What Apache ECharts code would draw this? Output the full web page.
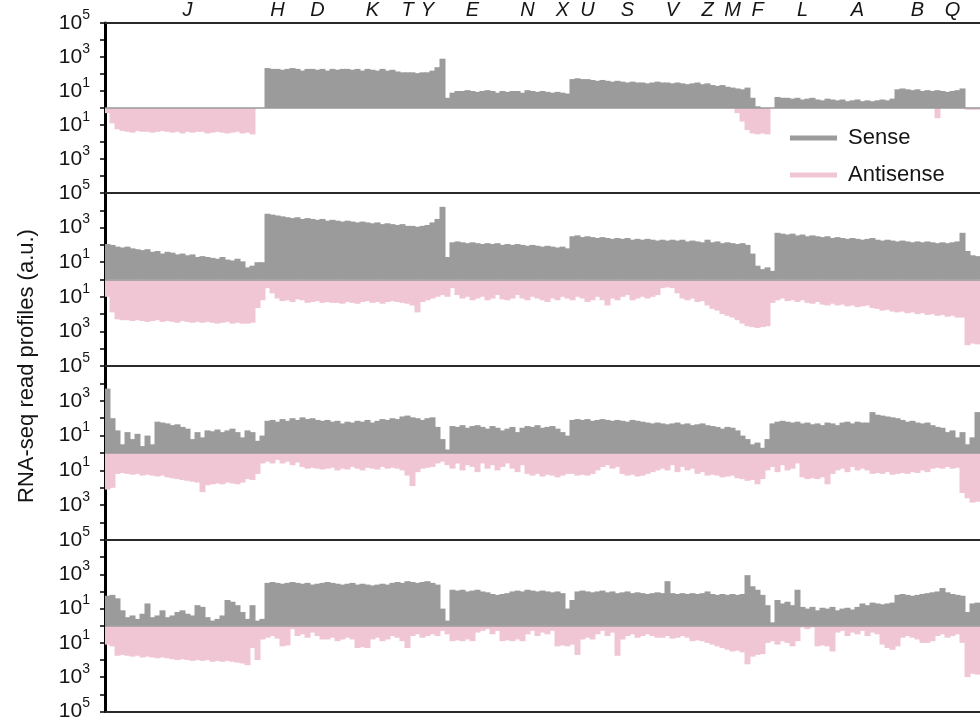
<!DOCTYPE html>
<html><head><meta charset="utf-8">
<script src="https://cdn.jsdelivr.net/npm/echarts@6/dist/echarts.min.js"></script>
<style>html,body{margin:0;padding:0;background:#fff}#c{width:980px;height:722px}</style>
</head><body><div id="c"></div>
<script>
// Gene labels along the top and the genome bin each one sits over
const geneNames = ['J','H','D','K','T','Y','E','N','X','U','S','V','Z','M','F','L','A','B','Q'];
const geneBins  = [16,34,42,53,60,64,73,84,91,96,104,113,120,125,130,139,150,162,169];

// log10(read count) per genome bin (175 bins)
const sense1 = [
0,0,0,0,0,0,0,0,0,0, 0,0,0,0,0,0,0,0,0,0, 0,0,0,0,0,0,0,0,0,0,
0,0,2.35,2.3,2.3,2.25,2.3,2.35,2.3,2.2, 2.3,2.3,2.25,2.3,2.2,2.3,2.25,2.3,2.3,2.25,
2.3,2.2,2.3,2.25,2.2,2.3,2.2,2.25,2.15,2.1, 2.1,2.1,2.05,2.1,2.1,2.2,2.4,2.9,0.6,0.9,
1.0,1.0,1.05,1.0,0.95,1.0,1.05,1.0,0.9,1.0, 0.95,1.0,1.0,0.9,1.05,1.0,0.95,1.0,0.95,0.9,
0.95,0.9,0.85,1.7,1.75,1.7,1.7,1.65,1.6,1.65, 1.6,1.55,1.6,1.55,1.5,1.55,1.5,1.5,1.45,1.5,
1.55,1.5,1.5,1.45,1.5,1.45,1.4,1.45,1.5,1.4, 1.45,1.35,1.3,1.35,1.25,1.2,1.15,1.1,1.2,0.6,
0.1,0,0,0,0.65,0.6,0.6,0.55,0.6,0.5, 0.55,0.6,0.5,0.45,0.55,0.5,0.45,0.5,0.4,0.45,
0.5,0.4,0.45,0.4,0.45,0.5,0.45,0.55,1.1,1.15, 1.1,1.05,1.1,1.0,1.05,1.0,1.05,1.0,0.95,1.0,
1.05,1.15,0,0,0];
const anti1 = [
0.3,0.9,1.25,1.35,1.4,1.45,1.35,1.4,1.4,1.45, 1.4,1.35,1.4,1.45,1.4,1.5,1.4,1.45,1.4,1.4,
1.5,1.45,1.4,1.45,1.5,1.45,1.4,1.5,1.45,1.55, 0,0,0,0,0,0,0,0,0,0,
0,0,0,0,0,0,0,0,0,0, 0,0,0,0,0,0,0,0,0,0, 0,0,0,0,0,0,0,0,0,0,
0,0,0,0,0,0,0,0,0,0, 0,0,0,0,0,0,0,0,0,0, 0,0,0,0,0,0,0,0,0,0,
0,0,0,0,0,0,0,0,0,0, 0,0,0,0,0,0,0,0,0,0, 0,0,0,0,0,0,0.3,0.8,1.3,1.5,
1.55,1.5,1.55,0,0,0,0,0,0,0, 0,0,0,0,0,0,0,0,0,0, 0,0,0,0,0,0,0,0,0,0,
0,0,0,0,0,0,0.6,0,0,0, 0,0,0.1,0.1,0.1];

const sense2 = [
2.05,2.0,1.9,1.85,1.9,1.8,1.75,1.7,1.75,1.6, 1.65,1.5,1.6,1.55,1.45,1.5,1.4,1.45,1.3,1.35,
1.3,1.25,1.2,1.3,1.15,1.1,1.2,1.05,0.7,0.8, 1.0,1.0,3.8,3.75,3.7,3.65,3.6,3.55,3.6,3.5,
3.55,3.5,3.45,3.5,3.4,3.45,3.4,3.35,3.4,3.35, 3.3,3.35,3.3,3.25,3.3,3.2,3.25,3.2,3.15,3.2,
3.1,3.1,3.05,3.1,3.15,3.3,3.5,4.2,1.3,2.15, 2.2,2.15,2.1,2.15,2.1,2.05,2.1,2.05,2.1,2.0,
2.05,2.0,2.05,2.0,1.95,2.0,1.95,1.9,1.95,1.9, 1.85,1.9,1.8,2.5,2.55,2.45,2.5,2.45,2.4,2.45,
2.4,2.35,2.4,2.35,2.4,2.3,2.35,2.3,2.35,2.3, 2.25,2.3,2.25,2.3,2.25,2.3,2.2,2.25,2.2,2.15,
2.3,2.15,2.2,2.1,2.15,2.1,2.05,2.1,2.0,1.5, 0.8,0.6,0.7,0.5,2.7,2.65,2.6,2.65,2.55,2.6,
2.5,2.55,2.5,2.45,2.5,2.4,2.45,2.4,2.35,2.4, 2.35,2.3,2.35,2.4,2.3,2.25,2.3,2.25,2.2,2.25,
2.2,2.15,2.2,2.15,2.2,2.15,2.1,2.15,2.1,2.15, 2.2,2.7,1.65,1.4,1.35];
const anti2 = [
1.0,1.9,2.3,2.35,2.35,2.4,2.35,2.4,2.45,2.4, 2.35,2.45,2.4,2.45,2.5,2.4,2.45,2.5,2.45,2.5,
2.45,2.5,2.55,2.5,2.45,2.55,2.5,2.55,2.55,2.5, 1.65,1.2,0.5,0.8,1.1,1.25,1.2,1.3,1.15,1.2,
1.35,1.3,1.25,1.35,1.3,1.35,1.35,1.4,1.3,1.35, 1.4,1.3,1.25,1.35,1.3,1.4,1.3,1.25,1.3,1.35,
1.4,1.5,1.9,1.3,1.2,1.1,1.0,0.9,1.0,0.5, 0.9,1.1,1.0,1.2,1.1,1.0,1.2,1.1,0.9,1.15,
1.2,1.1,0.9,1.1,1.2,1.0,1.1,1.2,1.3,1.1, 1.2,1.0,1.1,1.2,1.0,1.1,1.3,1.2,1.0,1.2,
1.5,1.1,1.2,1.0,0.9,1.2,1.1,1.0,1.1,1.0, 0.9,0.5,0.45,0.5,0.8,1.1,1.2,1.1,1.3,1.25,
1.5,1.7,1.8,2.0,2.1,2.2,2.35,2.55,2.7,2.75, 2.8,2.75,2.7,1.35,1.2,1.1,1.25,1.2,1.3,1.2,
1.35,1.4,1.3,1.45,1.5,1.4,1.5,1.45,1.55,1.5, 1.6,1.55,1.5,1.65,1.7,1.8,1.75,1.85,1.9,1.85,
1.95,1.9,2.0,1.95,2.05,2.0,2.1,2.05,2.15,2.1, 2.2,2.2,3.8,3.7,3.75];

const sense3 = [
3.7,2.0,1.3,0.5,1.2,0.8,1.1,0.4,1.0,0.5, 1.8,1.75,1.7,1.6,1.65,1.5,1.4,0.8,1.2,0.9,
1.3,1.25,1.35,1.2,1.3,1.4,1.2,0.9,1.3,1.2, 0.7,1.0,1.85,1.9,1.8,1.95,1.85,2.0,1.9,2.05,
1.95,2.0,1.9,1.85,1.9,1.8,1.85,1.7,1.8,1.75, 1.85,1.8,1.9,1.75,1.85,1.95,1.9,2.0,1.95,2.1,
2.15,2.05,2.0,1.9,2.0,2.05,1.5,0.8,0.2,1.55, 1.5,1.6,1.45,1.55,1.6,1.5,1.4,1.55,1.45,1.3,
1.4,1.5,1.2,1.45,1.55,1.5,1.6,1.45,1.5,1.55, 1.4,1.2,1.0,1.9,1.95,1.9,1.95,1.85,1.9,1.95,
1.9,1.85,1.9,1.85,1.8,1.9,1.85,1.8,1.75,1.7, 1.75,1.7,1.65,1.7,1.75,1.65,1.7,1.6,1.65,1.7,
1.6,1.55,1.5,1.4,1.5,1.45,1.3,1.0,0.8,0.5, 0.6,0.3,0.8,1.7,1.8,1.85,1.8,1.75,1.8,1.7,
1.75,1.65,1.7,1.6,1.75,1.7,1.6,1.75,1.8,1.7, 1.8,1.75,1.75,2.35,2.2,2.15,2.1,2.05,2.0,1.9,
1.8,1.85,1.75,1.7,1.75,1.6,1.5,1.45,1.2,1.3, 0.9,1.2,0.5,0.9,2.35];
const anti3 = [
2.1,2.0,1.2,1.15,1.2,1.25,1.2,1.3,1.25,1.3, 1.35,1.3,1.4,1.45,1.5,1.55,1.6,1.65,1.7,2.25,
1.85,1.8,1.75,1.8,1.7,1.75,1.8,1.7,1.5,1.55, 1.2,0.6,0.5,0.6,0.4,0.6,0.5,0.7,0.55,0.8,
0.9,0.85,0.9,0.95,0.9,0.85,1.0,0.9,0.95,0.8, 0.9,1.0,0.85,0.9,0.95,0.8,0.9,0.85,0.9,1.0,
1.3,1.9,1.1,0.9,0.85,0.8,0.6,0.5,0.7,0.9, 0.6,1.0,0.7,0.8,1.1,0.6,0.9,0.7,1.0,0.8,
0.6,0.9,1.1,0.7,1.2,1.3,1.2,1.35,1.25,1.3, 1.4,1.3,1.2,1.2,1.3,1.25,1.3,1.2,1.0,0.8,
0.7,0.9,0.8,1.2,1.3,1.25,1.35,1.3,1.2,1.1, 1.0,0.9,1.0,0.7,1.1,0.8,1.0,0.9,1.2,1.1,
1.3,1.25,1.3,1.4,1.35,1.3,1.45,1.5,1.6,1.55, 1.8,1.5,1.0,0.8,1.1,0.7,1.0,0.9,0.6,1.4,
1.5,1.45,1.5,1.4,1.8,1.2,1.0,0.9,1.1,0.8, 1.0,0.9,1.0,1.2,1.15,1.2,1.1,1.25,1.2,1.15,
1.2,1.1,1.15,1.0,1.1,0.9,0.85,0.9,0.8,0.9, 0.85,2.3,2.6,2.85,2.8];

const sense4 = [
1.75,1.8,1.6,0.9,0.5,0.6,0.4,0.7,1.3,0.5, 0.6,0.9,0.5,0.6,0.8,0.9,0.7,0.6,1.2,1.1,
0.5,0.3,0.4,0.6,1.5,1.4,1.2,0.8,0.4,1.2, 0.3,0.4,2.5,2.55,2.5,2.45,2.5,2.55,2.5,2.45,
2.5,2.4,2.45,2.5,2.55,2.5,2.45,2.4,2.45,2.5, 2.4,2.45,2.4,2.35,2.4,2.45,2.4,2.5,2.55,2.5,
2.6,2.55,2.5,2.55,2.6,2.5,2.4,1.0,0.3,2.1, 2.05,2.1,2.0,2.05,2.1,2.0,1.95,1.85,1.8,1.85,
1.9,2.0,2.05,2.0,2.1,2.05,2.0,2.05,2.0,1.95, 2.0,1.9,1.0,1.5,2.0,2.05,2.0,1.95,2.0,2.05,
1.95,2.0,1.9,1.95,2.0,1.9,1.95,1.9,1.85,1.9, 1.95,1.9,2.6,1.9,1.85,1.9,1.85,1.9,1.85,1.9,
2.0,1.85,1.8,1.85,1.8,1.85,1.8,1.85,2.95,2.3, 2.1,1.8,1.2,0.2,1.5,1.3,1.4,1.2,2.1,1.1,
1.0,1.1,0.9,1.05,1.0,1.1,0.9,1.0,1.05,0.95, 1.1,1.3,1.2,1.35,1.3,1.25,1.3,1.35,1.8,1.85,
1.8,1.75,1.8,1.85,1.9,1.95,2.0,2.2,1.95,1.85, 1.8,1.75,0.8,1.3,1.35];
const anti4 = [
1.1,1.2,1.75,1.7,1.75,1.8,1.75,1.85,1.8,1.85, 1.9,1.85,1.9,1.95,2.0,1.95,2.0,2.05,2.0,2.05,
2.0,2.1,2.05,2.1,2.05,2.1,2.15,2.2,2.3,1.3, 2.0,0.8,0.7,0.6,0.75,1.2,1.15,0.2,0.6,0.5,
0.7,0.4,0.6,0.8,0.8,0.7,0.9,0.8,0.7,0.8, 1.3,1.25,1.3,0.8,0.7,0.9,0.8,0.6,0.7,0.9,
1.3,0.6,0.5,0.7,0.6,0.5,0.6,0.3,0.5,0.9, 0.85,0.9,0.8,0.9,0.4,0.3,0.2,0.5,0.3,0.9,
0.85,0.9,0.8,0.9,0.5,0.3,0.6,0.4,0.5,0.3, 1.2,1.15,1.2,1.1,1.7,0.8,0.7,0.8,0.5,0.3,
0.6,0.4,1.75,0.8,0.6,0.5,0.7,0.6,0.5,0.6, 0.7,0.7,0.6,0.75,0.7,0.6,0.7,0.9,0.85,0.9,
1.0,1.1,1.2,1.3,1.4,1.5,1.45,1.55,2.25,1.8, 1.7,1.65,1.0,0.9,1.1,0.9,1.0,1.2,0.9,0.1,
0.2,0.1,1.2,1.15,1.2,1.5,0.4,0.3,0.6,0.4, 0.5,0.3,0.6,0.4,0.5,1.1,1.3,1.4,1.2,0.7,
0.6,0.7,0.8,1.0,1.0,0.9,0.6,0.5,0.7,0.6, 0.5,1.0,3.0,2.8,2.85];

const senseSets = [sense1, sense2, sense3, sense4];
const antiSets  = [anti1, anti2, anti3, anti4];
const yTitle = 'RNA-seq read profiles (a.u.)';

// ---------- chart construction ----------
const FONT = '"Liberation Sans", Arial, Helvetica, sans-serif';
const GRAY = '#9b9b9b', PINK = '#f1c6d4', INK = '#151515';
const bins = sense1.map((_, i) => String(i));
const gridTops = [21, 193, 366, 540];
const gridHeights = [172, 173, 174, 173];

const grids = [], xAxes = [], yAxes = [], series = [];
gridTops.forEach((t, i) => {
  grids.push({left: 105, right: 0, top: t, height: gridHeights[i]});
  xAxes.push({
    type: 'category', gridIndex: i, data: bins, position: 'top', boundaryGap: true,
    axisLine: {onZero: false, lineStyle: {color: '#2a2a2a', width: 2}},
    axisTick: {show: false},
    axisLabel: i === 0 ? {
      show: true, margin: 3, fontSize: 20, fontStyle: 'italic', fontFamily: FONT, color: INK,
      interval: (idx) => geneBins.indexOf(idx) >= 0,
      formatter: (v, idx) => { const k = geneBins.indexOf(idx); return k >= 0 ? geneNames[k] : ''; }
    } : {show: false}
  });
  yAxes.push({
    type: 'value', gridIndex: i, min: -5, max: 5, interval: 1,
    axisLine: {show: true, onZero: false, lineStyle: {color: '#000', width: 3}},
    axisTick: {show: true, length: 5, lineStyle: {color: '#000', width: 1.5}},
    splitLine: {show: false},
    axisLabel: {
      margin: 15,
      formatter: (v) => {
        const e = Math.round(v);
        if (e % 2 === 0) return '';
        if (i > 0 && e === 5) return '';
        return '{b|10}{e|' + Math.abs(e) + '}';
      },
      rich: {
        b: {fontSize: 21, fontFamily: FONT, color: INK, lineHeight: 30, verticalAlign: 'middle'},
        e: {fontSize: 14, fontFamily: FONT, color: INK, lineHeight: 14, verticalAlign: 'top'}
      }
    }
  });
  series.push({
    name: 'Sense', type: 'bar', xAxisIndex: i, yAxisIndex: i,
    data: senseSets[i], barWidth: 6, barGap: '-100%',
    itemStyle: {color: GRAY},
    emphasis: {disabled: true}, animation: false, z: 2,
    markLine: {silent: true, symbol: 'none', label: {show: false}, animation: false,
      lineStyle: {color: '#999', type: 'solid', width: 1.5}, data: [{yAxis: 0}]}
  });
  series.push({
    name: 'Antisense', type: 'bar', xAxisIndex: i, yAxisIndex: i,
    data: antiSets[i].map(v => -v), barWidth: 6, barGap: '-100%',
    itemStyle: {color: PINK},
    emphasis: {disabled: true}, animation: false, z: 2
  });
});
// bottom frame line of the last panel
xAxes.push({
  type: 'category', gridIndex: 3, data: bins, position: 'bottom',
  axisLine: {onZero: false, lineStyle: {color: '#2a2a2a', width: 2}},
  axisTick: {show: false}, axisLabel: {show: false}
});

const chart = echarts.init(document.getElementById('c'), null, {renderer: 'canvas'});
chart.setOption({
  animation: false,
  backgroundColor: '#fff',
  grid: grids, xAxis: xAxes, yAxis: yAxes, series: series,
  legend: {
    data: ['Sense', 'Antisense'], orient: 'vertical', left: 790, top: 127,
    icon: 'rect', itemWidth: 47, itemHeight: 5, itemGap: 15, selectedMode: false,
    padding: 0,
    textStyle: {fontSize: 22, fontFamily: FONT, color: INK, padding: [0, 0, 0, 6]}
  },
  graphic: [{
    type: 'text', x: 27, y: 366, rotation: Math.PI / 2,
    style: {text: yTitle, fontSize: 22, fontFamily: FONT, fill: INK,
      textAlign: 'center', textVerticalAlign: 'middle'}
  }]
});
</script></body></html>
